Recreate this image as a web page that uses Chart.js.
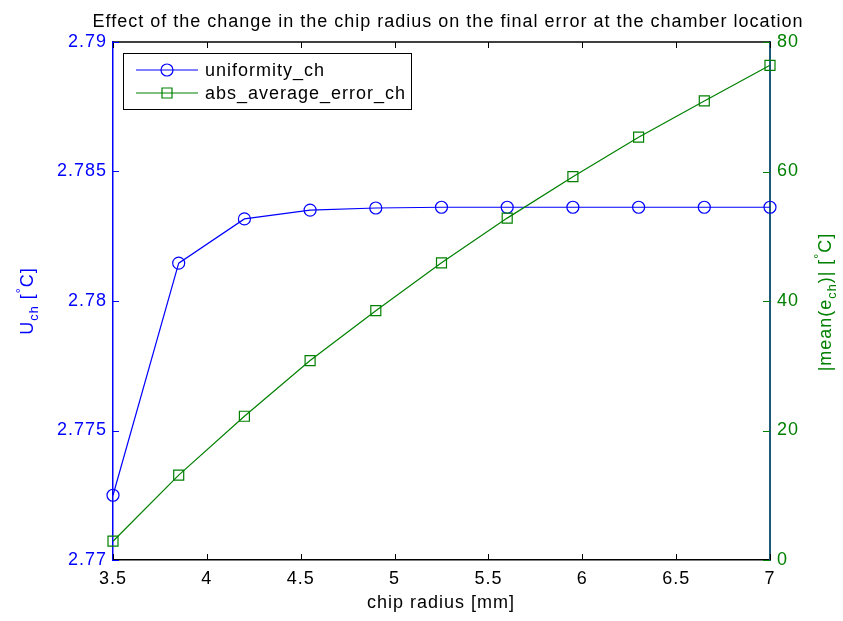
<!DOCTYPE html>
<html>
<head>
<meta charset="utf-8">
<script src="https://cdn.jsdelivr.net/npm/chart.js@4"></script>
<style>
body { margin: 0; background: #fff; }
</style>
</head>
<body>
<canvas id="chart" width="843" height="621"></canvas>
<script>
const radius = [3.5, 3.85, 4.2, 4.55, 4.9, 5.25, 5.6, 5.95, 6.3, 6.65, 7];
const uniformity = [2.7725, 2.78146, 2.78317, 2.78351, 2.78359, 2.78362, 2.78362, 2.78362, 2.78362, 2.78362, 2.78362];
const absError = [2.9, 13.1, 22.2, 30.8, 38.5, 45.9, 52.8, 59.2, 65.3, 70.9, 76.4];
const xTicks = [3.5, 4, 4.5, 5, 5.5, 6, 6.5, 7];
const leftTicks = [2.77, 2.775, 2.78, 2.785, 2.79];
const rightTicks = [0, 20, 40, 60, 80];
const titleText = 'Effect of the change in the chip radius on the final error at the chamber location';
const xLabel = 'chip radius [mm]';
// [text, level]  level -1 = subscript, 1 = superscript
const leftLabel = [['U', 0], ['ch', -1], [' [', 0], ['°', 1], ['C]', 0]];
const rightLabel = [['|mean(e', 0], ['ch', -1], [')| [', 0], ['°', 1], ['C]', 0]];

const BLUE = '#0000ff';
const GREEN = '#008000';
const RIGHT_AXIS = '#1c5a78';
const FONT = '"Liberation Sans", Arial, Helvetica, sans-serif';
const FS = 18;

function drawRich(ctx, parts, cx, cy, rot, color) {
    ctx.save();
    ctx.translate(cx, cy);
    ctx.rotate(rot);
    ctx.fillStyle = color;
    ctx.textBaseline = 'alphabetic';
    ctx.textAlign = 'left';
    let total = 0;
    const widths = parts.map(p => {
        ctx.font = (p[1] ? FS * 0.7 : FS) + 'px ' + FONT;
        const w = ctx.measureText(p[0]).width;
        total += w;
        return w;
    });
    let x = -total / 2;
    parts.forEach((p, i) => {
        ctx.font = (p[1] ? FS * 0.7 : FS) + 'px ' + FONT;
        const dy = p[1] < 0 ? FS * 0.3 : (p[1] > 0 ? -FS * 0.45 : 0);
        ctx.fillText(p[0], x, dy);
        x += widths[i];
    });
    ctx.restore();
}

function drawMarker(ctx, style, x, y, color) {
    ctx.strokeStyle = color;
    ctx.lineWidth = 1.2;
    ctx.beginPath();
    if (style === 'circle') ctx.arc(x, y, 6, 0, Math.PI * 2);
    else ctx.rect(x - 5, y - 5, 10, 10);
    ctx.stroke();
}

const matlabLook = {
    id: 'matlabLook',
    beforeDraw(chart) {
        chart.ctx.letterSpacing = '1px';
    },
    afterDraw(chart) {
        const ctx = chart.ctx;
        const a = chart.chartArea;
        const sx = chart.scales.x, sy = chart.scales.y, sy1 = chart.scales.y1;
        ctx.save();
        // top box line
        ctx.strokeStyle = '#000';
        ctx.lineWidth = 1.5;
        ctx.beginPath();
        ctx.moveTo(a.left, a.top);
        ctx.lineTo(a.right, a.top);
        ctx.stroke();
        // inward tick marks
        ctx.lineWidth = 1;
        xTicks.forEach(v => {
            const px = Math.round(sx.getPixelForValue(v)) + 0.5;
            ctx.beginPath();
            ctx.moveTo(px, a.bottom); ctx.lineTo(px, a.bottom - 6);
            ctx.moveTo(px, a.top); ctx.lineTo(px, a.top + 6);
            ctx.stroke();
        });
        ctx.strokeStyle = BLUE;
        leftTicks.forEach(v => {
            const py = Math.round(sy.getPixelForValue(v)) + 0.5;
            ctx.beginPath();
            ctx.moveTo(a.left, py); ctx.lineTo(a.left + 6, py);
            ctx.stroke();
        });
        ctx.strokeStyle = GREEN;
        rightTicks.forEach(v => {
            const py = Math.round(sy1.getPixelForValue(v)) + 0.5;
            ctx.beginPath();
            ctx.moveTo(a.right, py); ctx.lineTo(a.right - 7, py);
            ctx.stroke();
        });

        // legend
        ctx.fillStyle = '#fff';
        ctx.fillRect(123, 53, 288, 56);
        ctx.strokeStyle = '#000';
        ctx.lineWidth = 1;
        ctx.strokeRect(123.5, 53.5, 288, 56);
        ctx.font = FS + 'px ' + FONT;
        ctx.textBaseline = 'middle';
        ctx.textAlign = 'left';
        const rows = [70, 93];
        [0, 1].forEach(i => {
            const ds = chart.data.datasets[i];
            const y = rows[i];
            ctx.strokeStyle = ds.borderColor;
            ctx.lineWidth = 1.2;
            ctx.beginPath();
            ctx.moveTo(136, y); ctx.lineTo(198, y);
            ctx.stroke();
            drawMarker(ctx, ds.pointStyle, 167, y, ds.borderColor);
            ctx.fillStyle = '#000';
            ctx.fillText(ds.label, 205, y + 1);
        });

        // titles
        ctx.font = FS + 'px ' + FONT;
        ctx.fillStyle = '#000';
        ctx.textAlign = 'center';
        ctx.textBaseline = 'alphabetic';
        ctx.fillText(titleText, 448, 27);
        ctx.fillText(xLabel, 441, 608);
        drawRich(ctx, leftLabel, 33, 301, -Math.PI / 2, BLUE);
        drawRich(ctx, rightLabel, 831, 302, -Math.PI / 2, GREEN);
        ctx.restore();
    }
};

const tickFont = { family: FONT, size: FS };

new Chart(document.getElementById('chart'), {
    type: 'line',
    data: {
        datasets: [
            {
                label: 'uniformity_ch',
                data: radius.map((x, i) => ({ x: x, y: uniformity[i] })),
                yAxisID: 'y',
                borderColor: BLUE,
                borderWidth: 1.2,
                pointStyle: 'circle',
                pointRadius: 6,
                pointBorderColor: BLUE,
                pointBackgroundColor: 'rgba(0,0,0,0)',
                pointBorderWidth: 1.2,
                clip: false,
                order: 1
            },
            {
                label: 'abs_average_error_ch',
                data: radius.map((x, i) => ({ x: x, y: absError[i] })),
                yAxisID: 'y1',
                borderColor: GREEN,
                borderWidth: 1.2,
                pointStyle: 'rect',
                pointRadius: 7.07,
                pointBorderColor: GREEN,
                pointBackgroundColor: 'rgba(0,0,0,0)',
                pointBorderWidth: 1.2,
                clip: false,
                order: 0
            }
        ]
    },
    options: {
        responsive: false,
        animation: false,
        devicePixelRatio: 1,
        layout: { padding: { top: 42, left: 0, right: 0, bottom: 0 } },
        plugins: {
            legend: { display: false },
            tooltip: { enabled: false },
            title: { display: false }
        },
        scales: {
            x: {
                type: 'linear',
                min: 3.5,
                max: 7,
                afterBuildTicks: s => { s.ticks = xTicks.map(v => ({ value: v })); },
                afterFit: s => { s.height = 61; },
                grid: { display: false, drawTicks: false },
                border: { color: '#000', width: 1.5 },
                ticks: { color: '#000', font: tickFont, padding: 8, maxRotation: 0, autoSkip: false, callback: v => String(v) }
            },
            y: {
                position: 'left',
                min: 2.77,
                max: 2.79,
                afterBuildTicks: s => { s.ticks = leftTicks.map(v => ({ value: v })); },
                afterFit: s => { s.width = 113; },
                grid: { display: false, drawTicks: false },
                border: { color: BLUE, width: 1.5 },
                ticks: { color: BLUE, font: tickFont, padding: 6, autoSkip: false, callback: v => String(parseFloat(v.toFixed(3))) }
            },
            y1: {
                position: 'right',
                min: 0,
                max: 80,
                afterBuildTicks: s => { s.ticks = rightTicks.map(v => ({ value: v })); },
                afterFit: s => { s.width = 73; },
                grid: { display: false, drawTicks: false },
                border: { color: RIGHT_AXIS, width: 2 },
                ticks: { color: GREEN, font: tickFont, padding: 7, autoSkip: false, callback: v => String(v) }
            }
        }
    },
    plugins: [matlabLook]
});
</script>
</body>
</html>
